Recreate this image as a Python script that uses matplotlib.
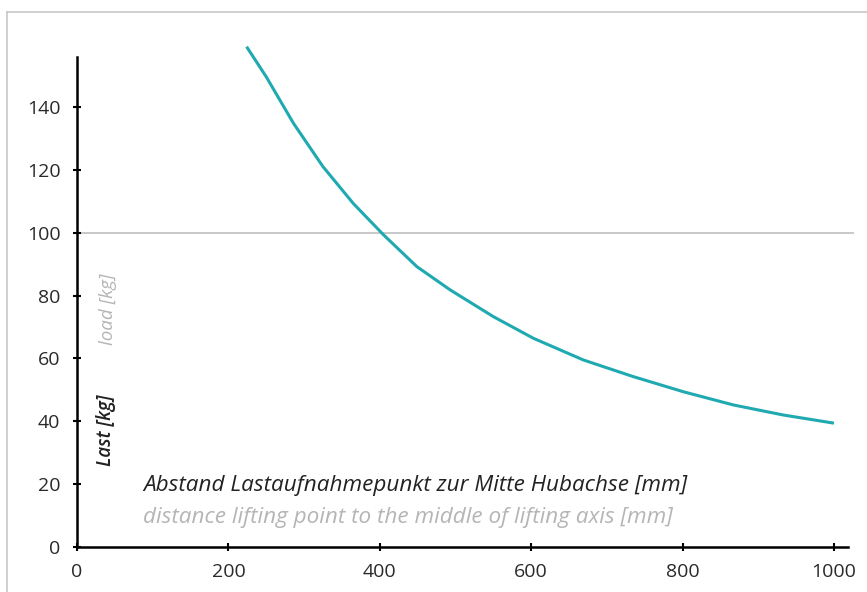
import numpy as np
import matplotlib
matplotlib.use('Agg')
import matplotlib.pyplot as plt
from matplotlib.lines import Line2D

# values
distance_mm = [224, 250, 286, 325, 365, 405, 449, 493, 550, 603, 669, 735, 801, 867, 933, 1000]
load_kg = [159.2, 149.6, 134.8, 121.0, 109.3, 99.3, 89.2, 81.8, 73.3, 66.4, 59.5, 54.2, 49.4, 45.2, 42.0, 39.4]
limit_kg = 100
x_ticks = [0, 200, 400, 600, 800, 1000]
y_ticks = [0, 20, 40, 60, 80, 100, 120, 140]

plt.rcParams['font.family'] = ['Open Sans', 'DejaVu Sans']

W, H = 867, 592
fig = plt.figure(figsize=(W / 100, H / 100), dpi=100)

# axes box in pixels: x 0 -> px 77, 1000 -> px 834 ; y 0 -> px 547, 140 -> px 107
left = 77 / W
bottom = (H - 547) / H
x_per = (834 - 77) / 1000
y_per = (547 - 107) / 140
xmax = 1018
ymax = 156
ax = fig.add_axes([left, bottom, xmax * x_per / W, ymax * y_per / H])
ax.set_xlim(0, xmax)
ax.set_ylim(0, ymax)

ax.axhline(limit_kg, xmin=0, xmax=1025 / xmax, color='#c8c8c8', lw=1.4, clip_on=False, zorder=1)
ax.plot(distance_mm, load_kg, color='#1fa9b0', lw=2.2, clip_on=False, zorder=3,
        solid_capstyle='butt')

for s in ['top', 'right']:
    ax.spines[s].set_visible(False)
for s in ['left', 'bottom']:
    ax.spines[s].set_linewidth(1.8)
    ax.spines[s].set_color('black')

ax.set_xticks(x_ticks)
ax.set_yticks(y_ticks)
ax.tick_params(direction='inout', length=6, width=1.5, color='black',
               labelsize=14, labelcolor='#2a2a2a')
ax.tick_params(axis='y', pad=9)
ax.tick_params(axis='x', pad=8.5)

# axis titles, German dark + English grey
fig.text(143 / W, 1 - 486 / H, 'Abstand Lastaufnahmepunkt zur Mitte Hubachse [mm]',
         fontsize=16.2, style='italic', color='#222222', va='center', ha='left')
fig.text(143 / W, 1 - 517 / H, 'distance lifting point to the middle of lifting axis [mm]',
         fontsize=16.2, style='italic', color='#b5b5b5', va='center', ha='left')
fig.text(106 / W, 1 - 466 / H, 'Last [kg]', rotation=90, fontsize=13.5, style='italic',
         fontweight='semibold', color='#222222', va='bottom', ha='center')
fig.text(108 / W, 1 - 345 / H, 'load [kg]', rotation=90, fontsize=13.5, style='italic',
         color='#b5b5b5', va='bottom', ha='center')

# thin grey frame on the left and top
fig.add_artist(Line2D([7 / W, 7 / W], [0, 1 - 12 / H], color='#c8c8c8', lw=1.2))
fig.add_artist(Line2D([7 / W, 1], [1 - 12 / H, 1 - 12 / H], color='#c8c8c8', lw=1.2))

fig.savefig('out.png', dpi=100)
